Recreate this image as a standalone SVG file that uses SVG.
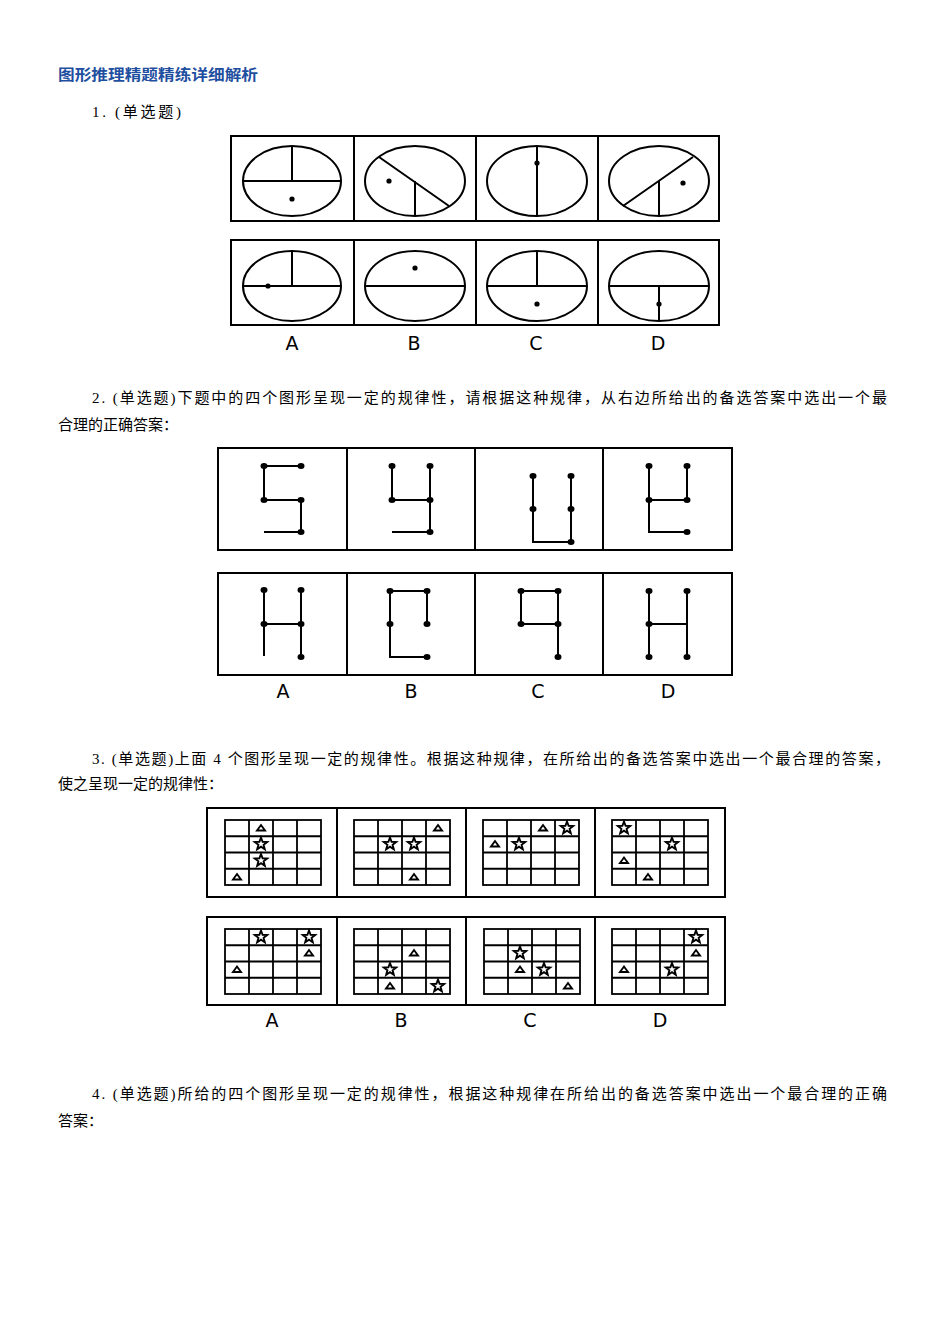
<svg xmlns="http://www.w3.org/2000/svg" xmlns:xlink="http://www.w3.org/1999/xlink" width="950" height="1344" viewBox="0 0 950 1344">
<style>
.t{font-family:"Liberation Serif","Noto Sans CJK SC",serif;font-size:15px;fill:#000}
.h{font-family:"Liberation Sans","Noto Sans CJK SC",sans-serif;font-size:15px;font-weight:bold;fill:#1f4fa0}
.lb{font-family:"DejaVu Sans","Liberation Sans",sans-serif;font-size:19px;fill:#000;text-anchor:middle}
.bx{fill:none;stroke:#000;stroke-width:2}
.ln{fill:none;stroke:#000;stroke-width:2}
.dt{fill:#000}
.gd{fill:none;stroke:#000;stroke-width:1.8}
.sym{fill:#fff;stroke:#000;stroke-width:1.9}
</style>
<defs>
<g id="grid"><rect class="gd" x="0" y="0" width="96" height="65"/><path class="gd" d="M24,0V65M48,0V65M72,0V65M0,16.25H96M0,32.5H96M0,48.75H96"/></g>
<path id="star" class="sym" d="M0,-6.5 L1.6,-2.2 6.2,-2 2.6,0.85 3.8,5.25 0,2.7 -3.8,5.25 -2.6,0.85 -6.2,-2 -1.6,-2.2Z"/>
<path id="tri" class="sym" d="M-4,2.5 L4,2.5 L0,-3 Z"/>
</defs>
<rect width="950" height="1344" fill="#fff"/>
<text class="h" x="58" y="80" textLength="200" lengthAdjust="spacingAndGlyphs">图形推理精题精练详细解析</text>
<text class="t" x="92" y="117" textLength="89" lengthAdjust="spacing">1. (单选题)</text>
<text class="t" x="92" y="403" textLength="795" lengthAdjust="spacing">2. (单选题)下题中的四个图形呈现一定的规律性，请根据这种规律，从右边所给出的备选答案中选出一个最</text>
<text class="t" x="58" y="430">合理的正确答案：</text>
<text class="t" x="92" y="764" textLength="798" lengthAdjust="spacing">3. (单选题)上面 4 个图形呈现一定的规律性。根据这种规律，在所给出的备选答案中选出一个最合理的答案，</text>
<text class="t" x="58" y="789">使之呈现一定的规律性：</text>
<text class="t" x="92" y="1099" textLength="795" lengthAdjust="spacing">4. (单选题)所给的四个图形呈现一定的规律性，根据这种规律在所给出的备选答案中选出一个最合理的正确</text>
<text class="t" x="58" y="1126">答案：</text>

<g id="q1">
<rect class="bx" x="231" y="136" width="488" height="85"/>
<path class="bx" d="M354,136V221M476,136V221M598,136V221"/>
<rect class="bx" x="231" y="240" width="488" height="85"/>
<path class="bx" d="M354,240V325M476,240V325M598,240V325"/>
<g class="ln">
<ellipse cx="292" cy="181" rx="49" ry="35"/><path d="M243,181H341M292,146V181"/>
<ellipse cx="415" cy="181" rx="50" ry="35"/><path d="M379,157L449,206M415,181V216"/>
<ellipse cx="537" cy="181" rx="50" ry="35"/><path d="M537,146V216"/>
<ellipse cx="659" cy="181" rx="50" ry="35"/><path d="M693,157L623,206M659,181V216"/>
<ellipse cx="292" cy="286" rx="49" ry="35"/><path d="M243,286H341M292,251V286"/>
<ellipse cx="415" cy="286" rx="50" ry="35"/><path d="M365,286H465"/>
<ellipse cx="537" cy="286" rx="50" ry="35"/><path d="M487,286H587M537,251V286"/>
<ellipse cx="659" cy="286" rx="50" ry="35"/><path d="M609,286H709M659,286V321"/>
</g>
<g class="dt">
<circle cx="292" cy="199" r="2.6"/><circle cx="389" cy="181" r="2.6"/><circle cx="537" cy="163" r="2.6"/><circle cx="683" cy="183" r="2.6"/>
<circle cx="268" cy="286" r="2.6"/><circle cx="415" cy="268" r="2.6"/><circle cx="537" cy="304" r="2.6"/><circle cx="659" cy="304" r="2.6"/>
</g>
<text class="lb" x="292" y="350">A</text><text class="lb" x="414" y="350">B</text><text class="lb" x="536" y="350">C</text><text class="lb" x="658" y="350">D</text>
</g>

<g id="q2">
<rect class="bx" x="218" y="448" width="514" height="102"/>
<path class="bx" d="M347,448V550M475,448V550M603,448V550"/>
<rect class="bx" x="218" y="573" width="514" height="102"/>
<path class="bx" d="M347,573V675M475,573V675M603,573V675"/>
<g class="ln">
<path d="M264,466H301M264,466V500H301V532M264,532H301"/>
<path d="M392,466V500H430M430,466V532M392,532H430"/>
<path d="M533,476V542H571M571,476V542"/>
<path d="M649,466V532H687M687,466V500M649,500H687"/>
<path d="M264,590V656M301,590V657M264,624H301"/>
<path d="M390,591H427M390,591V657H427M427,591V624"/>
<path d="M521,591H558M521,591V624H558M558,591V657"/>
<path d="M649,591V657M687,591V657M649,624H687"/>
</g>
<g class="dt">
<ellipse cx="264" cy="466" rx="3.5" ry="3"/><ellipse cx="301" cy="466" rx="3.5" ry="3"/><ellipse cx="264" cy="500" rx="3.5" ry="3"/><ellipse cx="301" cy="500" rx="3.5" ry="3"/><ellipse cx="301" cy="532" rx="3.5" ry="3"/>
<ellipse cx="392" cy="466" rx="3.5" ry="3"/><ellipse cx="430" cy="466" rx="3.5" ry="3"/><ellipse cx="392" cy="500" rx="3.5" ry="3"/><ellipse cx="430" cy="500" rx="3.5" ry="3"/><ellipse cx="430" cy="532" rx="3.5" ry="3"/>
<ellipse cx="533" cy="476" rx="3.5" ry="3"/><ellipse cx="571" cy="476" rx="3.5" ry="3"/><ellipse cx="533" cy="509" rx="3.5" ry="3"/><ellipse cx="571" cy="509" rx="3.5" ry="3"/><ellipse cx="571" cy="542" rx="3.5" ry="3"/>
<ellipse cx="649" cy="466" rx="3.5" ry="3"/><ellipse cx="687" cy="466" rx="3.5" ry="3"/><ellipse cx="649" cy="500" rx="3.5" ry="3"/><ellipse cx="687" cy="500" rx="3.5" ry="3"/><ellipse cx="687" cy="532" rx="3.5" ry="3"/>
<ellipse cx="264" cy="590" rx="3.5" ry="3"/><ellipse cx="301" cy="590" rx="3.5" ry="3"/><ellipse cx="264" cy="624" rx="3.5" ry="3"/><ellipse cx="301" cy="624" rx="3.5" ry="3"/><ellipse cx="301" cy="657" rx="3.5" ry="3"/>
<ellipse cx="390" cy="591" rx="3.5" ry="3"/><ellipse cx="427" cy="591" rx="3.5" ry="3"/><ellipse cx="390" cy="624" rx="3.5" ry="3"/><ellipse cx="427" cy="624" rx="3.5" ry="3"/><ellipse cx="427" cy="657" rx="3.5" ry="3"/>
<ellipse cx="521" cy="591" rx="3.5" ry="3"/><ellipse cx="558" cy="591" rx="3.5" ry="3"/><ellipse cx="521" cy="624" rx="3.5" ry="3"/><ellipse cx="558" cy="624" rx="3.5" ry="3"/><ellipse cx="558" cy="657" rx="3.5" ry="3"/>
<ellipse cx="649" cy="591" rx="3.5" ry="3"/><ellipse cx="687" cy="591" rx="3.5" ry="3"/><ellipse cx="649" cy="624" rx="3.5" ry="3"/><ellipse cx="649" cy="657" rx="3.5" ry="3"/><ellipse cx="687" cy="657" rx="3.5" ry="3"/>
</g>
<text class="lb" x="283" y="698">A</text><text class="lb" x="411" y="698">B</text><text class="lb" x="538" y="698">C</text><text class="lb" x="668" y="698">D</text>
</g>

<g id="q3">
<rect class="bx" x="207" y="808" width="518" height="89"/>
<path class="bx" d="M337,808V897M466,808V897M595,808V897"/>
<rect class="bx" x="207" y="917" width="518" height="88"/>
<path class="bx" d="M337,917V1005M466,917V1005M595,917V1005"/>
<use xlink:href="#grid" x="225" y="820"/><use xlink:href="#grid" x="354" y="820"/><use xlink:href="#grid" x="483" y="820"/><use xlink:href="#grid" x="612" y="820"/>
<use xlink:href="#grid" x="225" y="929"/><use xlink:href="#grid" x="354" y="929"/><use xlink:href="#grid" x="484" y="929"/><use xlink:href="#grid" x="612" y="929"/>
<use xlink:href="#tri" x="261" y="828"/><use xlink:href="#star" x="261" y="844"/><use xlink:href="#star" x="261" y="860.5"/><use xlink:href="#tri" x="237" y="877"/>
<use xlink:href="#tri" x="438" y="828"/><use xlink:href="#star" x="390" y="844"/><use xlink:href="#star" x="414" y="844"/><use xlink:href="#tri" x="414" y="877"/>
<use xlink:href="#tri" x="543" y="828"/><use xlink:href="#star" x="567" y="828"/><use xlink:href="#tri" x="495" y="844"/><use xlink:href="#star" x="519" y="844"/>
<use xlink:href="#star" x="624" y="828"/><use xlink:href="#star" x="672" y="844"/><use xlink:href="#tri" x="624" y="860.5"/><use xlink:href="#tri" x="648" y="877"/>
<use xlink:href="#star" x="261" y="937"/><use xlink:href="#star" x="309" y="937"/><use xlink:href="#tri" x="309" y="953"/><use xlink:href="#tri" x="237" y="969.5"/>
<use xlink:href="#tri" x="414" y="953"/><use xlink:href="#star" x="390" y="969.5"/><use xlink:href="#tri" x="390" y="986"/><use xlink:href="#star" x="438" y="986"/>
<use xlink:href="#star" x="520" y="953"/><use xlink:href="#tri" x="520" y="969.5"/><use xlink:href="#star" x="544" y="969.5"/><use xlink:href="#tri" x="568" y="986"/>
<use xlink:href="#star" x="696" y="937"/><use xlink:href="#tri" x="696" y="953"/><use xlink:href="#tri" x="624" y="969.5"/><use xlink:href="#star" x="672" y="969.5"/>
<text class="lb" x="272" y="1027">A</text><text class="lb" x="401" y="1027">B</text><text class="lb" x="530" y="1027">C</text><text class="lb" x="660" y="1027">D</text>
</g>
</svg>
